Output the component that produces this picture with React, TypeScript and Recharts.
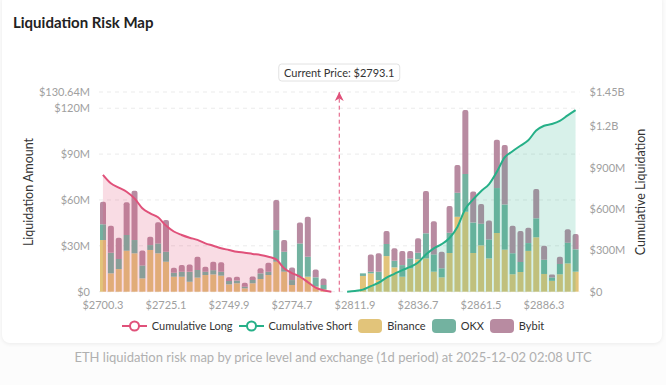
import React from "react";
import {
  ComposedChart,
  Bar,
  Area,
  XAxis,
  YAxis,
  CartesianGrid,
  ReferenceLine,
} from "recharts";

// ---------- data ----------
const categories: string[] = [
  "2700.3", "2703.4", "2706.5", "2709.6", "2712.7", "2715.8", "2718.9", "2722.0",
  "2725.1", "2728.2", "2731.3", "2734.4", "2737.5", "2740.6", "2743.7", "2746.8",
  "2749.9", "2753.0", "2756.1", "2759.2", "2762.3", "2765.4", "2768.5", "2771.6",
  "2774.7", "2777.8", "2780.9", "2784.0", "2787.1", "2790.2", "2793.1", "2808.8",
  "2811.9", "2815.0", "2818.1", "2821.2", "2824.3", "2827.4", "2830.5", "2833.6",
  "2836.7", "2839.8", "2842.9", "2846.0", "2849.1", "2852.2", "2855.3", "2858.4",
  "2861.5", "2864.6", "2867.7", "2870.8", "2873.9", "2877.0", "2880.1", "2883.2",
  "2886.3", "2889.4", "2892.5", "2895.6", "2898.7",
];
const currentPrice = "2793.1";

// long side bars (millions USD), categories 0..28
const longBinance = [33.8, 12.0, 14.8, 26.8, 25.1, 8.7, 27.3, 25.1, 19.6, 9.8, 9.8, 6.5, 9.2, 10.9, 11.3, 10.5, 4.8, 5.5, 2.2, 5.5, 8.3, 10.9, 19.6, 13.1, 4.4, 9.4, 9.8, 3.3, 1.5];
const longOkx = [10.3, 13.5, 6.6, 10.3, 8.7, 8.5, 3.2, 6.5, 6.6, 2.6, 3.3, 6.5, 5.0, 2.2, 2.8, 2.6, 2.2, 1.8, 1.1, 2.2, 3.7, 2.2, 20.7, 13.1, 3.2, 22.2, 13.1, 6.1, 2.9];
const longBybit = [14.8, 17.7, 13.9, 21.4, 32.3, 9.8, 5.5, 13.8, 20.7, 3.3, 4.4, 4.8, 8.7, 3.3, 5.5, 6.1, 2.4, 2.4, 2.6, 2.2, 3.3, 5.9, 19.7, 7.6, 8.3, 13.6, 26.1, 5.2, 4.3];

// short side bars (millions USD), categories 33..60
const SHORT_BAR_START = 33;
const shortBinance = [10.3, 12.0, 7.6, 23.3, 15.9, 9.8, 15.3, 21.2, 21.8, 13.1, 9.4, 25.3, 49.0, 52.3, 25.3, 30.3, 21.8, 38.4, 27.5, 11.4, 12.9, 26.7, 35.6, 11.6, 7.1, 11.4, 18.5, 13.1];
const shortOkx = [1.7, 1.1, 5.5, 7.9, 4.4, 7.6, 6.5, 4.3, 16.4, 11.3, 5.9, 13.3, 15.8, 24.7, 19.9, 14.2, 12.4, 29.4, 29.5, 13.7, 6.6, 5.1, 12.4, 9.3, 2.2, 6.8, 13.6, 14.6];
const shortBybit = [0, 11.3, 12.0, 8.5, 8.1, 9.2, 4.8, 9.4, 27.7, 21.7, 10.9, 17.5, 18.1, 41.9, 20.3, 12.9, 12.3, 31.6, 39.0, 18.0, 20.2, 10.1, 19.2, 9.2, 1.9, 4.7, 8.7, 10.0];

// cumulative lines (billions USD)
const cumulativeLong = [0.848, 0.787, 0.756, 0.726, 0.678, 0.606, 0.569, 0.54, 0.48, 0.437, 0.412, 0.392, 0.376, 0.351, 0.334, 0.315, 0.303, 0.29, 0.283, 0.274, 0.267, 0.254, 0.235, 0.17, 0.135, 0.11, 0.07, 0.03, 0.01, 0];
const SHORT_CUM_START = 31;
const cumulativeShort = [0, 0.005, 0.015, 0.04, 0.065, 0.102, 0.13, 0.157, 0.18, 0.212, 0.27, 0.315, 0.345, 0.39, 0.47, 0.6, 0.67, 0.73, 0.78, 0.87, 0.975, 1.02, 1.06, 1.1, 1.17, 1.205, 1.218, 1.24, 1.28, 1.318];

const leftTicks = [0, 30, 60, 90, 120, 130.64];
const rightTicks = [0, 0.3, 0.6, 0.9, 1.2, 1.45];

// ---------- styles ----------
const C_BINANCE = "#e2c47a";
const C_OKX = "#73b2a0";
const C_BYBIT = "#b88ba1";
const C_LONG = "#e0517a";
const C_SHORT = "#26b088";
const FONT = "Lato, 'Noto Sans', sans-serif";

const pick = (i: number, longArr: number[], shortArr: number[]) => {
  if (i < longArr.length) return longArr[i];
  const s = i - SHORT_BAR_START;
  if (s >= 0 && s < shortArr.length) return shortArr[s];
  return null;
};

const data = categories.map((price, i) => ({
  price,
  binance: pick(i, longBinance, shortBinance),
  okx: pick(i, longOkx, shortOkx),
  bybit: pick(i, longBybit, shortBybit),
  cumLong: i < cumulativeLong.length ? cumulativeLong[i] : null,
  cumShort:
    i >= SHORT_CUM_START && i - SHORT_CUM_START < cumulativeShort.length
      ? cumulativeShort[i - SHORT_CUM_START]
      : null,
}));

const fmtLeft = (v: number) => (v === 0 ? "$0" : `$${v}M`);
const fmtRight = (v: number) =>
  v === 0 ? "$0" : v >= 1 ? `$${v}B` : `$${Math.round(v * 1000)}M`;

const PriceLabel = (props: any) => {
  const vb = props.viewBox || {};
  const x = vb.x;
  const y = vb.y;
  if (x == null || y == null) return null;
  return (
    <g>
      <polygon
        points={`${x},${y} ${x - 4.5},${y + 9} ${x},${y + 6.5} ${x + 4.5},${y + 9}`}
        fill={C_LONG}
      />
      <rect x={x - 60.5} y={y - 28} width={121} height={17} rx={3} fill="#fff" stroke="#e2e2e2" />
      <text
        x={x}
        y={y - 19.5}
        textAnchor="middle"
        dominantBaseline="central"
        fontSize={11}
        fill="#333"
      >
        {`Current Price: $${currentPrice}`}
      </text>
    </g>
  );
};

const LineIcon = ({ color }: { color: string }) => (
  <svg width={25} height={14} style={{ marginRight: 5, display: "block" }}>
    <line x1={0} y1={7} x2={25} y2={7} stroke={color} strokeWidth={2} />
    <circle cx={12.5} cy={7} r={4.5} fill="#fff" stroke={color} strokeWidth={2} />
  </svg>
);
const RectIcon = ({ color }: { color: string }) => (
  <div
    style={{ width: 24, height: 14, borderRadius: 4, background: color, marginRight: 5 }}
  />
);

const legendItems = [
  { name: "Cumulative Long", color: C_LONG, kind: "line" },
  { name: "Cumulative Short", color: C_SHORT, kind: "line" },
  { name: "Binance", color: C_BINANCE, kind: "rect" },
  { name: "OKX", color: C_OKX, kind: "rect" },
  { name: "Bybit", color: C_BYBIT, kind: "rect" },
];

export default function App() {
  return (
    <div
      style={{
        position: "fixed",
        left: 0,
        top: 0,
        width: 666,
        height: 385,
        background: "#fcfcfc",
        fontFamily: FONT,
        overflow: "hidden",
      }}
    >
      <div
        style={{
          position: "absolute",
          left: 2,
          top: -6,
          width: 660,
          height: 349,
          background: "#fff",
          borderRadius: 8,
          boxShadow: "0 1px 4px rgba(0,0,0,0.07)",
        }}
      />
      <div
        style={{
          position: "absolute",
          left: 13,
          top: 12,
          fontSize: 15,
          fontWeight: 700,
          color: "#222",
          lineHeight: "20px",
        }}
      >
        Liquidation Risk Map
      </div>
      <div style={{ position: "absolute", left: 0, top: 0 }}>
        <ComposedChart
          width={666}
          height={345}
          data={data}
          margin={{ top: 92, right: 0, bottom: 33.3, left: 0 }}
        >
          <CartesianGrid
            yAxisId="left"
            vertical={false}
            stroke="#ebebeb"
            strokeDasharray="4 4"
          />
          <XAxis
            dataKey="price"
            interval={7}
            tickFormatter={(v: string) => `$${v}`}
            tick={{ fontSize: 11, fill: "#a0a0a0" }}
            axisLine={false}
            tickLine={false}
            tickSize={5}
            tickMargin={4}
            height={20}
          />
          <YAxis
            yAxisId="left"
            domain={[0, 130.64]}
            ticks={leftTicks}
            interval={0}
            tickFormatter={fmtLeft}
            tick={{ fontSize: 11, fill: "#a0a0a0" }}
            axisLine={false}
            tickLine={false}
            tickSize={0}
            tickMargin={9}
            width={99}
          />
          <YAxis
            yAxisId="right"
            orientation="right"
            domain={[0, 1.45]}
            ticks={rightTicks}
            interval={0}
            tickFormatter={fmtRight}
            tick={{ fontSize: 11, fill: "#a0a0a0" }}
            axisLine={false}
            tickLine={false}
            tickSize={0}
            tickMargin={10}
            width={86.5}
          />
          <Bar yAxisId="left" dataKey="binance" name="Binance" stackId="ex" fill={C_BINANCE} barSize={6} isAnimationActive={false} />
          <Bar yAxisId="left" dataKey="okx" name="OKX" stackId="ex" fill={C_OKX} barSize={6} isAnimationActive={false} />
          <Bar yAxisId="left" dataKey="bybit" name="Bybit" stackId="ex" fill={C_BYBIT} barSize={6} radius={[2, 2, 0, 0]} isAnimationActive={false} />
          <Area
            yAxisId="right"
            type="monotone"
            dataKey="cumLong"
            name="Cumulative Long"
            stroke={C_LONG}
            strokeWidth={2}
            fill={C_LONG}
            fillOpacity={0.2}
            dot={false}
            activeDot={false}
            isAnimationActive={false}
            {...({ zIndex: 350 } as any)}
          />
          <Area
            yAxisId="right"
            type="monotone"
            dataKey="cumShort"
            name="Cumulative Short"
            stroke={C_SHORT}
            strokeWidth={2}
            fill={C_SHORT}
            fillOpacity={0.18}
            dot={false}
            activeDot={false}
            isAnimationActive={false}
            {...({ zIndex: 350 } as any)}
          />
          <ReferenceLine
            yAxisId="left"
            x={currentPrice}
            stroke={C_LONG}
            strokeDasharray="4 3"
            strokeWidth={1}
            label={<PriceLabel />}
          />
        </ComposedChart>
      </div>
      <div
        style={{
          position: "absolute",
          left: 28,
          top: 192,
          transform: "translate(-50%, -50%) rotate(-90deg)",
          whiteSpace: "nowrap",
          fontSize: 12.5,
          color: "#333",
        }}
      >
        Liquidation Amount
      </div>
      <div
        style={{
          position: "absolute",
          left: 640,
          top: 192,
          transform: "translate(-50%, -50%) rotate(-90deg)",
          whiteSpace: "nowrap",
          fontSize: 12.5,
          color: "#333",
        }}
      >
        Cumulative Liquidation
      </div>
      <div
        style={{
          position: "absolute",
          left: 0,
          top: 319,
          width: 666,
          height: 14,
          display: "flex",
          justifyContent: "center",
          alignItems: "center",
          fontSize: 11,
          color: "#333",
        }}
      >
        {legendItems.map((it) => (
          <div key={it.name} style={{ display: "flex", alignItems: "center", margin: "0 3px" }}>
            {it.kind === "line" ? <LineIcon color={it.color} /> : <RectIcon color={it.color} />}
            <span style={{ lineHeight: "14px" }}>{it.name}</span>
          </div>
        ))}
      </div>
      <div
        style={{
          position: "absolute",
          left: 0,
          top: 349,
          width: 666,
          textAlign: "center",
          fontSize: 13,
          color: "#b0b0b0",
          lineHeight: "16px",
        }}
      >
        ETH liquidation risk map by price level and exchange (1d period) at 2025-12-02 02:08 UTC
      </div>
    </div>
  );
}
